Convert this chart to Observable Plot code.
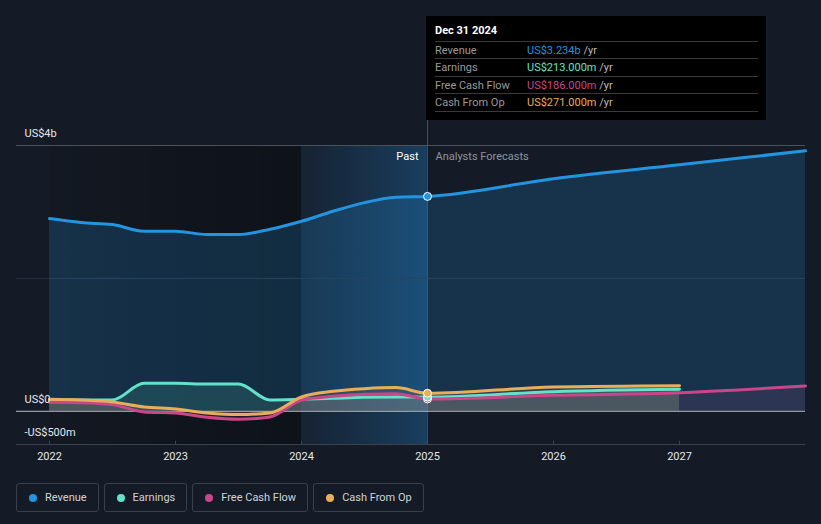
<!DOCTYPE html>
<html><head><meta charset="utf-8">
<script src="https://cdn.jsdelivr.net/npm/d3@7"></script>
<script src="https://cdn.jsdelivr.net/npm/@observablehq/plot@0.6"></script>
<style>
html,body{margin:0;padding:0;background:#151b26;}
body{width:821px;height:524px;overflow:hidden;position:relative;font-family:Roboto,"Open Sans",sans-serif;}
#chart{position:absolute;left:0;top:0;}
#stem{position:absolute;left:427px;top:118px;width:1px;height:28px;background:#3b556e;}
#tip{position:absolute;left:426px;top:16px;width:340px;height:104px;background:#000;color:#fff;font-size:11px;}
#tip .ttl{position:absolute;left:9px;top:8px;font-weight:bold;font-size:11px;}
#tip .row{position:absolute;left:9px;width:323px;height:17px;border-top:1px solid #3a3a3a;line-height:17px;}
#tip .row .lab{color:#9a9a9a;position:absolute;left:0;}
#tip .row .val{position:absolute;left:92px;}
#tip .row .u{color:#bbb;}
#tip .end{position:absolute;left:9px;width:323px;top:95px;border-top:1px solid #3a3a3a;}
#legend{position:absolute;left:16px;top:483px;display:flex;gap:5px;}
.item{height:27px;border:1px solid #3a404b;border-radius:3px;display:flex;align-items:center;padding:0 11px 0 12px;color:#cfd2d6;font-size:11px;box-sizing:content-box;}
.item .dot{width:8px;height:8px;border-radius:50%;margin-right:8px;}
</style></head>
<body>
<div id="chart"></div>
<div id="stem"></div>
<div id="tip"></div>
<div id="legend"></div>
<script>
// ---- data (values in US$ billions) ----
const quarters = [2022,2022.25,2022.5,2022.75,2023,2023.25,2023.5,2023.75,2024,2024.25,2024.5,2024.75,2025];
const revenueX = [...quarters, 2026, 2027, 2028];
const revenue  = [2.90,2.84,2.81,2.71,2.71,2.66,2.66,2.74,2.86,3.01,3.14,3.22,3.234,3.50,3.71,3.92];
const earningsX = [...quarters, 2026, 2027];
const earnings  = [0.17,0.17,0.17,0.42,0.42,0.41,0.41,0.17,0.18,0.195,0.21,0.215,0.213,0.295,0.33];
const fcfX = [...quarters, 2026, 2027, 2028];
const fcf  = [0.135,0.13,0.10,-0.01,-0.025,-0.09,-0.12,-0.085,0.17,0.225,0.255,0.265,0.186,0.24,0.28,0.38];
const cfoX = [...quarters, 2026, 2027];
const cfo  = [0.18,0.17,0.14,0.065,0.035,-0.025,-0.05,-0.025,0.215,0.30,0.34,0.356,0.271,0.365,0.385];

const seriesNames = ["Revenue","Earnings","Free Cash Flow","Cash From Op"];
const seriesColors = ["#2394df","#62e2c9","#c9468a","#e9ae5b"];
const tipValues = ["US$3.234b","US$213.000m","US$186.000m","US$271.000m"];
const tipDate = "Dec 31 2024";
const yTicks = [4, 0, -0.5];
const yTickLabels = ["US$4b","US$0","-US$500m"];
const xTicks = [2022,2023,2024,2025,2026,2027];
const pastEnd = 2025, highlightStart = 2024, pastStart = 2022;

const toRows = (xs, ys) => xs.map((x,i)=>({x, y: ys[i]}));
const rev = toRows(revenueX, revenue);
const ear = toRows(earningsX, earnings);
const fc = toRows(fcfX, fcf);
const co = toRows(cfoX, cfo);
const at = (rows) => rows.filter(d => d.x === pastEnd);

const defs = () => {
  const g = d3.create("svg:defs");
  const dk = g.append("linearGradient").attr("id","dk");
  dk.append("stop").attr("offset","0").attr("stop-color","#000").attr("stop-opacity",0.1);
  dk.append("stop").attr("offset","1").attr("stop-color","#000").attr("stop-opacity",0.35);
  const hl = g.append("linearGradient").attr("id","hl");
  hl.append("stop").attr("offset","0").attr("stop-color","#1f6aa5").attr("stop-opacity",0.1);
  hl.append("stop").attr("offset","1").attr("stop-color","#1f78bd").attr("stop-opacity",0.38);
  return g.node();
};

const curve = "monotone-x";
const plot = Plot.plot({
  width: 821, height: 470,
  marginLeft: 16, marginRight: 16, marginTop: 145, marginBottom: 26,
  x: {domain: [2021.738, 2028.0]},
  y: {domain: [-0.5, 4], axis: null},
  style: {background: "transparent", color: "#d8dadd", fontFamily: "Roboto, 'Open Sans', sans-serif", fontSize: "11px"},
  marks: [
    defs,
    Plot.rect([{x1: pastStart, x2: highlightStart}], {x1:"x1", x2:"x2", y1: -0.5, y2: 4, fill: "url(#dk)"}),
    Plot.rect([{x1: highlightStart, x2: pastEnd}], {x1:"x1", x2:"x2", y1: -0.5, y2: 4, fill: "url(#hl)"}),
    Plot.ruleY([2], {stroke: "#283040"}),
    Plot.ruleY([4], {stroke: "#4b515b"}),
    Plot.ruleY([-0.5], {stroke: "#3d434d"}),
    Plot.ruleX(xTicks, {y1: -0.5, y2: -0.45, stroke: "#3d434d"}),
    Plot.ruleX([pastEnd], {y1: -0.5, y2: 4, stroke: "#2f4d69"}),
    Plot.areaY(rev, {x:"x", y:"y", fill: seriesColors[0], fillOpacity: 0.2, curve}),
    Plot.areaY(ear, {x:"x", y:"y", fill: seriesColors[1], fillOpacity: 0.14, curve}),
    Plot.areaY(fc, {x:"x", y:"y", fill: seriesColors[2], fillOpacity: 0.12, curve}),
    Plot.areaY(co, {x:"x", y:"y", fill: seriesColors[3], fillOpacity: 0.12, curve}),
    Plot.ruleY([0], {stroke: "#b9bcc1"}),
    Plot.lineY(rev, {x:"x", y:"y", stroke: seriesColors[0], strokeWidth: 3, curve}),
    Plot.lineY(ear, {x:"x", y:"y", stroke: seriesColors[1], strokeWidth: 3, curve}),
    Plot.lineY(fc, {x:"x", y:"y", stroke: seriesColors[2], strokeWidth: 3, curve}),
    Plot.lineY(co, {x:"x", y:"y", stroke: seriesColors[3], strokeWidth: 3, curve}),
    Plot.dot(at(rev), {x:"x", y:"y", r: 4, fill: seriesColors[0], stroke: "#fff", strokeWidth: 1}),
    Plot.dot(at(fc), {x:"x", y:"y", r: 4, fill: seriesColors[2], stroke: "#fff", strokeWidth: 1}),
    Plot.dot(at(ear), {x:"x", y:"y", r: 4, fill: seriesColors[1], stroke: "#fff", strokeWidth: 1}),
    Plot.dot(at(co), {x:"x", y:"y", r: 4, fill: seriesColors[3], stroke: "#fff", strokeWidth: 1}),
    Plot.text(yTicks, {y: d => d, frameAnchor: "left", text: (d,i) => yTickLabels[i], textAnchor: "start", dx: 8, dy: -12, fill: "#e6e7e9", fontSize: 11}),
    Plot.text([{x: pastEnd, y: 4}], {x:"x", y:"y", text: () => "Past", textAnchor: "end", dx: -9, dy: 11, fill: "#ffffff", fontSize: 11}),
    Plot.text([{x: pastEnd, y: 4}], {x:"x", y:"y", text: () => "Analysts Forecasts", textAnchor: "start", dx: 8, dy: 11, fill: "#8d939b", fontSize: 11}),
    Plot.axisX({ticks: xTicks, tickFormat: d => String(d), tickSize: 0, tickPadding: 8, fontSize: 11, fill: "#e6e7e9"})
  ]
});
document.getElementById("chart").append(plot);

// tooltip
const tip = document.getElementById("tip");
let html = `<div class="ttl">${tipDate}</div>`;
seriesNames.forEach((n,i) => {
  const top = 25 + i*17.4;
  html += `<div class="row" style="top:${top}px"><span class="lab">${n}</span><span class="val"><span style="color:${seriesColors[i]}">${tipValues[i]}</span><span class="u"> /yr</span></span></div>`;
});
html += `<div class="end"></div>`;
tip.innerHTML = html;

// legend
const lg = document.getElementById("legend");
seriesNames.forEach((n,i) => {
  const it = document.createElement("div");
  it.className = "item";
  it.innerHTML = `<span class="dot" style="background:${seriesColors[i]}"></span>${n}`;
  lg.append(it);
});
</script>
</body></html>
